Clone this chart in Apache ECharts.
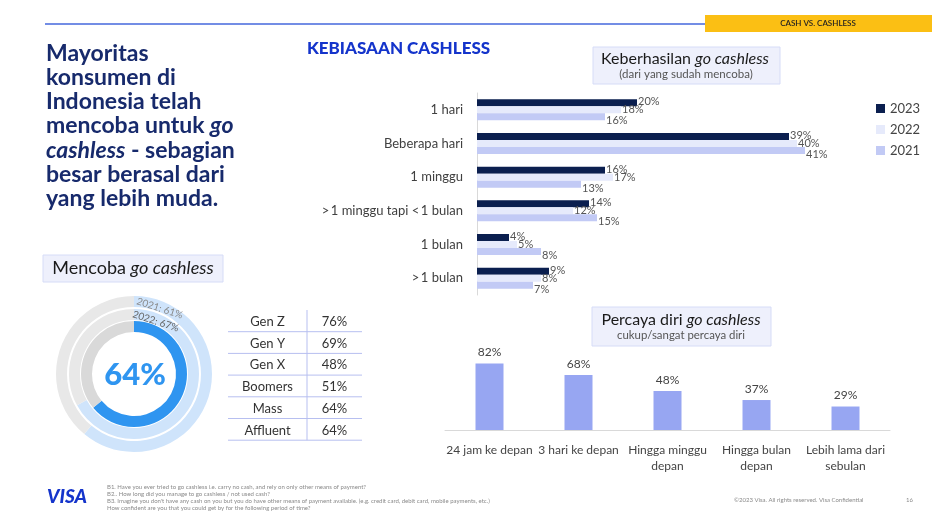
<!DOCTYPE html>
<html>
<head>
<meta charset="utf-8">
<title>Cash vs Cashless</title>
<script src="https://cdn.jsdelivr.net/npm/echarts@6/dist/echarts.min.js"></script>
<style>
  html, body { margin: 0; padding: 0; background: #fff; }
  #main { width: 935px; height: 524px; }
</style>
</head>
<body>
<div id="main"></div>
<script>
// data
var durasiKategori = ['1 hari', 'Beberapa hari', '1 minggu', '>\u20091 minggu tapi <\u20091 bulan', '1 bulan', '>\u20091 bulan'];
var tahun = ['2023', '2022', '2021'];
var durasi2023 = [20, 39, 16, 14, 4, 9];
var durasi2022 = [18, 40, 17, 12, 5, 8];
var durasi2021 = [16, 41, 13, 15, 8, 7];

var percayaKategori = ['24 jam ke depan', '3 hari ke depan', 'Hingga minggu\ndepan', 'Hingga bulan\ndepan', 'Lebih lama dari\nsebulan'];
var percayaNilai = [82, 68, 48, 37, 29];

var mencobaTahun = ['2023', '2022', '2021'];
var mencobaNilai = [64, 67, 61];

var segmenLabel = ['Gen Z', 'Gen Y', 'Gen X', 'Boomers', 'Mass', 'Affluent'];
var segmenNilai = [76, 69, 48, 51, 64, 64];

var FONT = 'Lato, "Open Sans", sans-serif';
var warnaTahun = ['#0b1f4f', '#e6eafb', '#c2caf5'];

var chart = echarts.init(document.getElementById('main'));

// donut ring (start at top, clockwise)
function cincin(nilai, rIn, rOut, warna, sisa) {
	return {
		type: 'pie',
		silent: true,
		center: [134, 374],
		radius: [rIn, rOut],
		startAngle: 90,
		clockwise: true,
		label: { show: false },
		labelLine: { show: false },
		emphasis: { disabled: true },
		itemStyle: { borderWidth: 0 },
		data: [
			{ value: nilai, itemStyle: { color: warna } },
			{ value: 100 - nilai, itemStyle: { color: sisa } }
		]
	};
}

// table of segments
var tabel = [];
var tx0 = 228, tx1 = 362, tMid = 307, tTop = 310, rowH = 21.7;
tabel.push({ type: 'line', silent: true, shape: { x1: tMid, y1: tTop, x2: tMid, y2: tTop + rowH * segmenLabel.length }, style: { stroke: '#b7bff0', lineWidth: 1 } });
for (var i = 0; i < segmenLabel.length; i++) {
	var yc = tTop + rowH * i + rowH / 2 + 1;
	tabel.push({ type: 'text', silent: true, x: (tx0 + tMid) / 2, y: yc, style: { text: segmenLabel[i], font: '13px ' + FONT, fill: '#333', align: 'center', verticalAlign: 'middle' } });
	tabel.push({ type: 'text', silent: true, x: (tMid + tx1) / 2, y: yc, style: { text: segmenNilai[i] + '%', font: '13px ' + FONT, fill: '#333', align: 'center', verticalAlign: 'middle' } });
	var yl = tTop + rowH * (i + 1);
	tabel.push({ type: 'line', silent: true, shape: { x1: tx0, y1: yl, x2: tx1, y2: yl }, style: { stroke: '#b7bff0', lineWidth: 1 } });
}

var judulKiri = [
	'{b|Mayoritas}',
	'{b|konsumen di}',
	'{b|Indonesia telah}',
	'{b|mencoba untuk }{bi|go}',
	'{bi|cashless}{b| - sebagian}',
	'{b|besar berasal dari}',
	'{b|yang lebih muda.}'
].join('\n');

var catatan = [
	'B1. Have you ever tried to go cashless i.e. carry no cash, and rely on only other means of payment?',
	'B2.. How long did you manage to go cashless / not used cash?',
	'B3. Imagine you don\'t have any cash on you but you do have other means of payment available. (e.g. credit card, debit card, mobile payments, etc.)',
	'How confident are you that you could get by for the following period of time?'
].join('\n');

var grafik = [
	// header line + tag
	{ type: 'line', silent: true, shape: { x1: 45, y1: 24, x2: 705, y2: 24 }, style: { stroke: '#4467dc', lineWidth: 1.5 } },
	{ type: 'rect', silent: true, shape: { x: 705, y: 15, width: 227, height: 17 }, style: { fill: '#fbbf14' } },
	{ type: 'text', silent: true, x: 818, y: 23.5, style: { text: 'CASH VS. CASHLESS', font: '600 8px ' + FONT, fill: '#222', align: 'center', verticalAlign: 'middle' } },

	// left heading
	{ type: 'text', silent: true, x: 46, y: 41, style: {
		text: judulKiri, fill: '#172a6c',
		rich: {
			b: { font: 'bold 23px ' + FONT, fill: '#172a6c', lineHeight: 24.3 },
			bi: { font: 'italic bold 23px ' + FONT, fill: '#172a6c', lineHeight: 24.3 }
		}
	} },

	{ type: 'text', silent: true, x: 307, y: 49, style: { text: 'KEBIASAAN CASHLESS', font: '900 17px ' + FONT, fill: '#1434cb', verticalAlign: 'middle' } },

	// title box: keberhasilan
	{ type: 'rect', silent: true, shape: { x: 593, y: 47, width: 187, height: 37 }, style: { fill: '#eef0fc', stroke: '#d6dcf7', lineWidth: 1 } },
	{ type: 'text', silent: true, x: 685, y: 59, style: {
		text: '{n|Keberhasilan }{i|go cashless}', align: 'center', verticalAlign: 'middle',
		rich: { n: { font: '16px ' + FONT, fill: '#1a1a1a' }, i: { font: 'italic 16px ' + FONT, fill: '#1a1a1a' } }
	} },
	{ type: 'text', silent: true, x: 686, y: 74, style: { text: '(dari yang sudah mencoba)', font: '11.5px ' + FONT, fill: '#555', align: 'center', verticalAlign: 'middle' } },

	// title box: mencoba
	{ type: 'rect', silent: true, shape: { x: 43, y: 255, width: 180, height: 27 }, style: { fill: '#eef0fc', stroke: '#d6dcf7', lineWidth: 1 } },
	{ type: 'text', silent: true, x: 133, y: 268.5, style: {
		text: '{n|Mencoba }{i|go cashless}', align: 'center', verticalAlign: 'middle',
		rich: { n: { font: '18px ' + FONT, fill: '#1a1a1a' }, i: { font: 'italic 18px ' + FONT, fill: '#1a1a1a' } }
	} },

	// donut labels
	{ type: 'text', silent: true, z: 100, x: 135, y: 375, style: { text: mencobaNilai[0] + '%', font: '900 31px ' + FONT, fill: '#2f95f0', align: 'center', verticalAlign: 'middle' } },
	{ type: 'text', silent: true, z: 100, x: 137, y: 301, rotation: -0.31, style: { text: mencobaTahun[2] + ': ' + mencobaNilai[2] + '%', font: '10px ' + FONT, fill: '#8a8a8a', verticalAlign: 'middle' } },
	{ type: 'text', silent: true, z: 100, x: 133, y: 314, rotation: -0.31, style: { text: mencobaTahun[1] + ': ' + mencobaNilai[1] + '%', font: '10px ' + FONT, fill: '#666', verticalAlign: 'middle' } },

	// title box: percaya diri
	{ type: 'rect', silent: true, shape: { x: 592, y: 307, width: 179, height: 39 }, style: { fill: '#eef0fc', stroke: '#d6dcf7', lineWidth: 1 } },
	{ type: 'text', silent: true, x: 681, y: 320, style: {
		text: '{n|Percaya diri }{i|go cashless}', align: 'center', verticalAlign: 'middle',
		rich: { n: { font: '16px ' + FONT, fill: '#1a1a1a' }, i: { font: 'italic 16px ' + FONT, fill: '#1a1a1a' } }
	} },
	{ type: 'text', silent: true, x: 681, y: 335, style: { text: 'cukup/sangat percaya diri', font: '11.4px ' + FONT, fill: '#555', align: 'center', verticalAlign: 'middle' } },

	// footer
	{ type: 'text', silent: true, x: 67, y: 497, style: { text: 'VISA', font: 'italic 900 19px ' + FONT, fill: '#1434cb', align: 'center', verticalAlign: 'middle' } },
	{ type: 'text', silent: true, x: 107, y: 483.5, style: { text: catatan, font: '6px ' + FONT, fill: '#8a8a8a', lineHeight: 6.9 } },
	{ type: 'text', silent: true, x: 734, y: 500.5, style: { text: '\u00a92023 Visa. All rights reserved. Visa Confidential', font: '6px ' + FONT, fill: '#8a8a8a', verticalAlign: 'middle' } },
	{ type: 'text', silent: true, x: 906, y: 500.5, style: { text: '16', font: '6px ' + FONT, fill: '#8a8a8a', verticalAlign: 'middle' } }
].concat(tabel);

function seriDurasi(idx, data, geser) {
	return {
		name: tahun[idx],
		type: 'bar',
		xAxisIndex: 0,
		yAxisIndex: 0,
		data: data,
		barWidth: 7,
		barGap: '0%',
		silent: true,
		itemStyle: { color: warnaTahun[idx] },
		label: {
			show: true, position: 'right', distance: 1, offset: [0, geser],
			formatter: '{c}%', fontFamily: FONT, fontSize: 11, color: '#555'
		}
	};
}

var option = {
	animation: false,
	textStyle: { fontFamily: FONT },
	legend: {
		data: tahun,
		orient: 'vertical',
		left: 871,
		top: 97,
		itemWidth: 9,
		itemHeight: 9,
		itemGap: 8,
		icon: 'rect',
		selectedMode: false,
		textStyle: { fontFamily: FONT, fontSize: 13, color: '#444' }
	},
	grid: [
		{ left: 477, top: 93, width: 400, height: 202 },
		{ left: 445, top: 349, width: 445, height: 81 }
	],
	xAxis: [
		{ gridIndex: 0, type: 'value', min: 0, max: 50, show: false },
		{
			gridIndex: 1, type: 'category', data: percayaKategori,
			axisLine: { lineStyle: { color: '#d9d9d9' } },
			axisTick: { show: false },
			axisLabel: { margin: 12, fontFamily: FONT, fontSize: 12, color: '#444', lineHeight: 16, interval: 0 }
		}
	],
	yAxis: [
		{
			gridIndex: 0, type: 'category', data: durasiKategori, inverse: true,
			axisLine: { lineStyle: { color: '#d9d9d9' } },
			axisTick: { show: false },
			axisLabel: { margin: 14, fontFamily: FONT, fontSize: 13, color: '#404040' }
		},
		{ gridIndex: 1, type: 'value', min: 0, max: 100, show: false }
	],
	series: [
		seriDurasi(0, durasi2023, -1),
		seriDurasi(1, durasi2022, 0),
		seriDurasi(2, durasi2021, 4),
		{
			type: 'bar',
			xAxisIndex: 1,
			yAxisIndex: 1,
			data: percayaNilai,
			barWidth: 28,
			silent: true,
			itemStyle: { color: '#97a6f2' },
			label: { show: true, position: 'top', distance: 5, formatter: '{c}%', fontFamily: FONT, fontSize: 12, color: '#444' }
		},
		cincin(mencobaNilai[2], 67, 78, '#cfe4fb', '#e8e8e8'),
		cincin(mencobaNilai[1], 54, 65, '#cfe4fb', '#e8e8e8'),
		cincin(mencobaNilai[0], 42, 53, '#2f95f0', '#d9d9d9')
	],
	graphic: grafik
};

chart.setOption(option);
</script>
</body>
</html>
